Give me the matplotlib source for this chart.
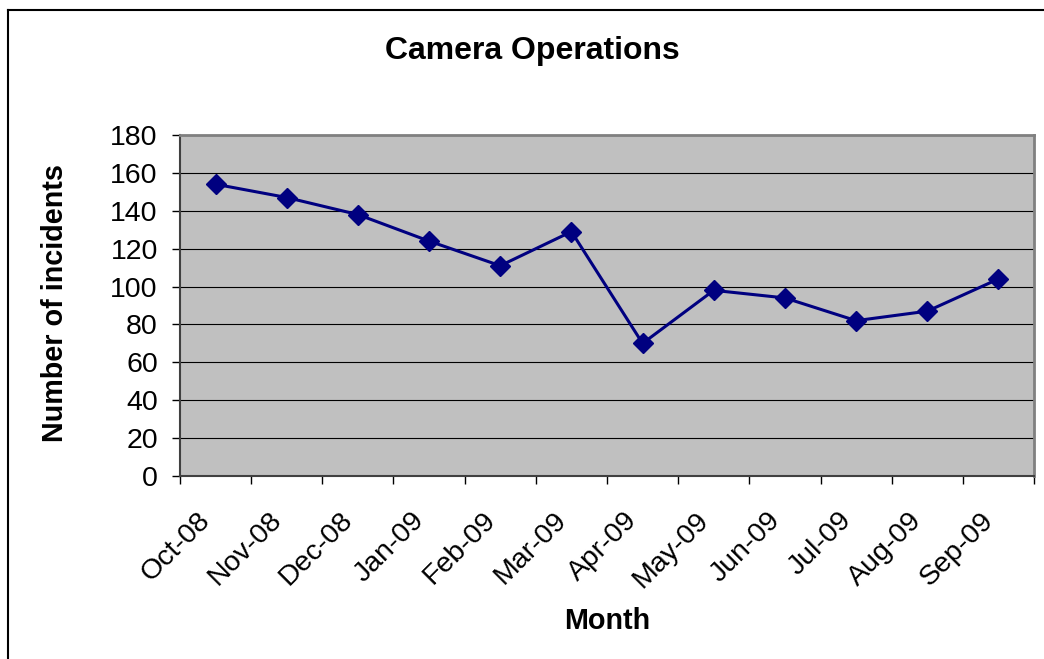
import matplotlib
matplotlib.use('Agg')
import matplotlib.pyplot as plt
from matplotlib.lines import Line2D
from matplotlib.transforms import ScaledTranslation

# data
months = ['Oct-08', 'Nov-08', 'Dec-08', 'Jan-09', 'Feb-09', 'Mar-09',
          'Apr-09', 'May-09', 'Jun-09', 'Jul-09', 'Aug-09', 'Sep-09']
incidents = [154, 147, 138, 124, 111, 129, 70, 98, 94, 82, 87, 104]
y_ticks = [0, 20, 40, 60, 80, 100, 120, 140, 160, 180]

plt.rcParams['font.family'] = ['Liberation Sans', 'DejaVu Sans']

fig = plt.figure(figsize=(10.44, 6.59), dpi=100)
ax = fig.add_axes([180/1044, 1-476/659, 854/1044, 341/659])
ax.set_facecolor('#C0C0C0')

x = range(len(months))
ax.plot(x, incidents, color='#000080', lw=2.2, marker='D', ms=10,
        mfc='#000080', mec='#000080', zorder=3)

ax.set_xlim(-0.5, len(months) - 0.5)
ax.set_ylim(0, 180)
ax.set_yticks(y_ticks)
ax.grid(axis='y', color='black', lw=0.8, zorder=1)
ax.set_axisbelow(True)

# tick marks at category boundaries, labels at centres
ax.set_xticks([i - 0.5 for i in range(len(months) + 1)], minor=True)
ax.set_xticks(list(x))
ax.set_xticklabels(months, rotation=45, ha='right', va='center',
                   rotation_mode='anchor', fontsize=20.5)
ax.tick_params(axis='x', which='major', length=0, pad=29)
ax.tick_params(axis='x', which='minor', length=6, width=1, direction='out')
ax.tick_params(axis='y', length=6, width=1, direction='out', labelsize=20.5, pad=10)
for lab in ax.get_xticklabels():
	lab.set_transform(lab.get_transform() + ScaledTranslation(-0.09, 0, fig.dpi_scale_trans))

for s in ['top', 'right']:
	ax.spines[s].set_color('#808080')
	ax.spines[s].set_linewidth(2)
for s in ['left', 'bottom']:
	ax.spines[s].set_color('#404040')
	ax.spines[s].set_linewidth(1.5)

fig.text(532/1044, 1-51/659, 'Camera Operations', ha='center', va='center',
         fontsize=23, fontweight='bold')
fig.text(55/1044, 1-303/659, 'Number of incidents', ha='center', va='center',
         rotation=90, fontsize=20.7, fontweight='bold')
fig.text(607/1044, 1-621/659, 'Month', ha='center', va='center',
         fontsize=20.7, fontweight='bold')

# chart frame (only top and left edges are visible in the original)
fig.add_artist(Line2D([8/1044, 8/1044], [0, 1-10/659], color='black', lw=1.5,
                      transform=fig.transFigure))
fig.add_artist(Line2D([8/1044, 1], [1-10/659, 1-10/659], color='black', lw=1.5,
                      transform=fig.transFigure))

fig.savefig('out.png', dpi=100)
